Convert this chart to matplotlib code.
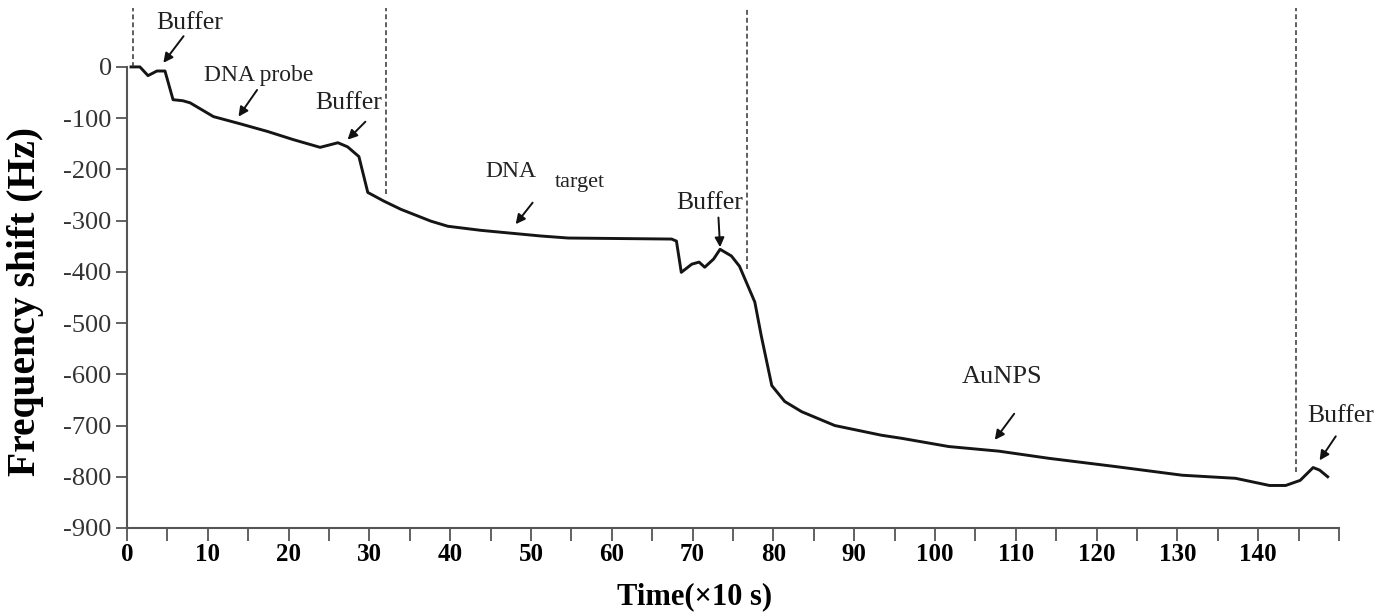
import matplotlib
matplotlib.use("Agg")
import matplotlib.pyplot as plt
from matplotlib.ticker import MultipleLocator

# frequency shift trace (time in units of 10 s, shift in Hz)
time = [0.5, 1.6, 2.6, 3.7, 4.7, 5.7, 6.9, 7.8, 10.7, 14.0, 17.4, 20.6, 23.9,
        26.1, 27.3, 28.7, 29.8, 31.8, 33.9, 37.6, 39.7, 43.8, 51.2, 54.6, 67.4,
        68.0, 68.6, 69.9, 70.8, 71.5, 72.6, 73.4, 74.8, 75.8, 77.7, 78.5, 79.8,
        81.4, 83.5, 87.6, 93.4, 95.9, 101.7, 107.9, 114.1, 122.3, 130.6, 137.2,
        141.4, 143.4, 145.2, 146.8, 147.6, 148.6]
shift = [0, 0, -17, -8, -8, -64, -66, -70, -97, -111, -126, -142, -157,
         -148, -156, -175, -245, -262, -278, -301, -311, -319, -330, -334, -336,
         -340, -401, -385, -381, -391, -375, -356, -369, -389, -459, -525, -622,
         -653, -673, -700, -719, -725, -741, -750, -764, -780, -797, -803,
         -817, -817, -807, -782, -787, -800]

# stage boundaries (dashed lines) and where each one stops
step_x = [0.75, 32.0, 76.7, 144.7]
step_bottom = [0, -249, -395, -790]

# labels: text, text position, arrow tail, arrow head
labels = ["Buffer", "DNA probe", "Buffer", "DNA", "target", "Buffer", "AuNPS", "Buffer"]
label_xy = [(7.8, 85), (16.3, -17), (27.4, -70), (47.5, -204), (56.0, -226),
            (72.1, -265), (108.3, -605), (150.2, -682)]
arrow_from = [(7.0, 60), (16.1, -45), (29.5, -107), (50.2, -265), None,
              (73.2, -294), (109.8, -677), (149.6, -721)]
arrow_to = [(4.5, 8), (13.8, -97), (27.3, -142), (48.1, -307), None,
            (73.4, -352), (107.4, -728), (147.6, -768)]
label_size = [18.5, 17, 18.5, 17, 16, 18.5, 19, 18.5]

plt.rcParams['font.family'] = ['Liberation Serif', 'DejaVu Serif']
plt.rcParams['axes.unicode_minus'] = False

fig = plt.figure(figsize=(13.75, 6.16), dpi=100)
ax = fig.add_axes([127/1375, 1 - 528/616, (1339-127)/1375, (528-8)/616])

ax.plot(time, shift, color='#151515', lw=2.1, solid_joinstyle='round')

for x, yb in zip(step_x, step_bottom):
    ax.plot([x, x], [yb, 115], color='#333333', lw=1.1, ls=(0, (3.2, 2)))

for txt, pos, a0, a1, fs in zip(labels, label_xy, arrow_from, arrow_to, label_size):
    ax.text(pos[0], pos[1], txt, fontsize=fs, ha='center', va='center', color='#222222')
    if a0 is not None:
        ax.annotate('', xy=a1, xytext=a0,
                    arrowprops=dict(arrowstyle='-|>', color='#111111', lw=1.4,
                                    mutation_scale=14, shrinkA=0, shrinkB=0))

ax.set_xlim(0, 150)
ax.set_ylim(-900, 115)
ax.spines['top'].set_visible(False)
ax.spines['right'].set_visible(False)
ax.spines['left'].set_bounds(-900, 0)
for s in ['left', 'bottom']:
    ax.spines[s].set_color('#555555')
    ax.spines[s].set_linewidth(1.5)

ax.set_yticks(range(-900, 1, 100))
ax.xaxis.set_major_locator(MultipleLocator(10))
ax.xaxis.set_minor_locator(MultipleLocator(5))
ax.set_xticks(range(0, 141, 10))
ax.tick_params(axis='y', direction='out', length=8, width=1.3, color='#555555',
               labelsize=19, labelcolor='#333333', pad=3)
ax.tick_params(axis='x', which='both', direction='out', length=9, width=1.3,
               color='#555555', labelsize=18, pad=2)
for lab in ax.get_xticklabels():
    lab.set_fontweight('bold')

fig.text(695/1375, 1 - 597/616, 'Time(×10 s)', fontsize=22, fontweight='bold',
         ha='center', va='center')
fig.text(26/1375, 1 - 302/616, 'Frequency shift (Hz)', fontsize=28.5, fontweight='bold',
         ha='center', va='center', rotation=90)

fig.savefig('out.png', dpi=100)
